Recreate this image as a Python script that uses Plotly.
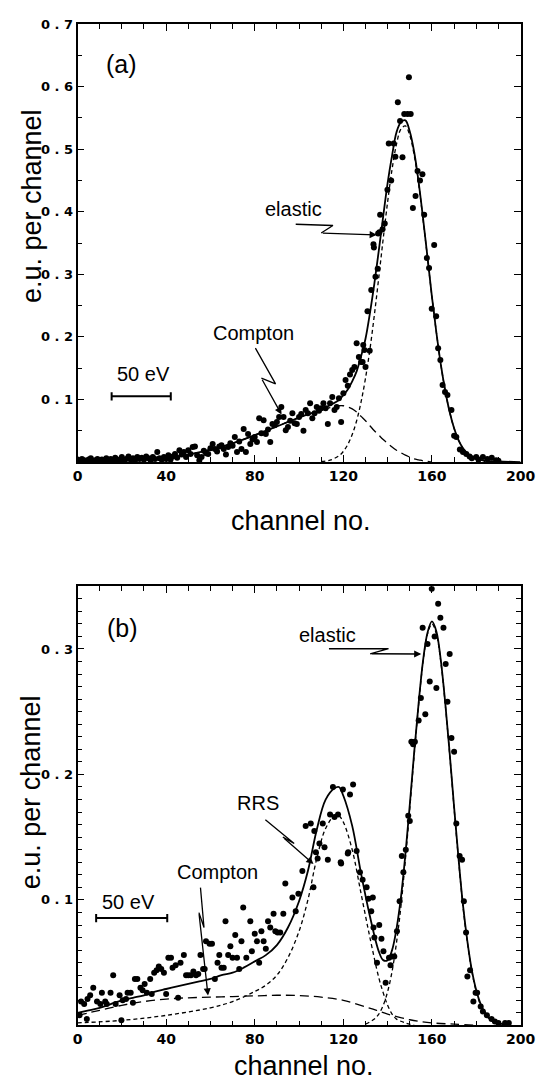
import plotly.graph_objects as go

# ---------------- panel (a) data ----------------
a_ch = [0, 1, 2, 3, 4, 5, 6, 7, 8, 9, 10, 11, 12, 13, 14, 15, 16, 17, 18, 19,
        20, 21, 22, 23, 24, 25, 26, 27, 28, 29, 30, 31, 32, 33, 34, 35, 36, 37, 38, 39,
        40, 41, 42, 43, 44, 45, 46, 47, 48, 49, 50, 51, 52, 53, 54, 55, 56, 57, 58, 59,
        60, 61, 62, 63, 64, 65, 66, 67, 68, 69, 70, 71, 72, 73, 74, 75, 76, 77, 78, 79,
        80, 81, 82, 83, 84, 85, 86, 87, 88, 89, 90, 91, 92, 93, 94, 95, 96, 97, 98, 99,
        100, 101, 102, 103, 104, 105, 106, 107, 108, 109, 110, 111, 112, 113, 114, 115, 116, 117, 118, 119,
        120, 121, 122, 123, 124, 125, 126, 127, 128, 128.7, 129, 129.5, 130, 130.9, 131.9, 132.6,
        133.6, 133.8, 134.5, 135.5, 135.7, 136.3, 136.6, 137.7, 138.7, 139.9, 140.5, 141.6, 142.7,
        143.5, 144.6, 145.6, 146.7, 147.5, 149, 149.6, 150.4, 151.4, 152.6, 153.5, 154.6, 155.7,
        156.5, 157.7, 158.7, 159.9, 161, 161.9, 162.8, 163.8, 164.8, 165.9, 167, 168.8, 170, 171,
        172.6, 174, 175.5, 177, 178, 180, 181, 183, 185, 187, 189, 190]
a_val = [0.004, 0.002, 0.005, 0.003, 0.001, 0.004, 0.006, 0.002, 0.003, 0.005,
         0.001, 0.004, 0.002, 0.006, 0.003, 0.005, 0.002, 0.007, 0.004, 0.003,
         0.008, 0.002, 0.005, 0.009, 0.004, 0.006, 0.003, 0.008, 0.005, 0.007,
         0.004, 0.009, 0.006, 0.003, 0.008, 0.005, 0.016, 0.006, 0.004, 0.008,
         0.005, 0.011, 0.004, 0.009, 0.013, 0.007, 0.019, 0.012, 0.016, 0.008,
         0.019, 0.013, 0.024, 0.025, 0.011, 0.003, 0.008, 0.018, 0.014, 0.013,
         0.022, 0.029, 0.021, 0.017, 0.025, 0.027, 0.021, 0.012, 0.024, 0.030,
         0.026, 0.040, 0.016, 0.033, 0.021, 0.053, 0.016, 0.045, 0.029, 0.036,
         0.040, 0.032, 0.070, 0.046, 0.067, 0.045, 0.052, 0.032, 0.061, 0.059,
         0.064, 0.072, 0.088, 0.072, 0.051, 0.056, 0.066, 0.078, 0.062, 0.061,
         0.072, 0.077, 0.050, 0.083, 0.078, 0.094, 0.070, 0.078, 0.088, 0.082,
         0.086, 0.094, 0.086, 0.061, 0.094, 0.104, 0.083, 0.088, 0.102, 0.064,
         0.110, 0.131, 0.122, 0.140, 0.147, 0.152, 0.190, 0.168, 0.160, 0.160, 0.187, 0.179,
         0.152, 0.241, 0.178, 0.275, 0.348, 0.343, 0.296, 0.309, 0.365, 0.367, 0.395, 0.372,
         0.381, 0.435, 0.509, 0.450, 0.509, 0.488, 0.575, 0.545, 0.487, 0.556, 0.556, 0.615,
         0.556, 0.406, 0.425, 0.465, 0.450, 0.460, 0.395, 0.326, 0.310, 0.245, 0.347, 0.233,
         0.182, 0.163, 0.123, 0.112, 0.107, 0.083, 0.042, 0.040, 0.020, 0.016, 0.013, 0.009,
         0.006, 0.008, 0.004, 0.008, 0.005, 0.007, 0.003, 0.002]

a_fit_ch = [0, 10, 20, 30, 40, 50, 60, 70, 80, 90, 100, 110, 114, 118, 120, 122, 124, 126, 128,
            130, 132, 134, 136, 138, 140, 142, 144, 146, 148, 150, 152, 154, 156, 158, 160, 162,
            164, 166, 168, 170, 172, 174, 176, 178, 180, 184, 190, 200]
a_fit = [0.001, 0.002, 0.003, 0.004, 0.006, 0.012, 0.020, 0.030, 0.043, 0.057, 0.071, 0.084,
         0.091, 0.099, 0.107, 0.116, 0.129, 0.145, 0.169, 0.197, 0.238, 0.285, 0.338, 0.393,
         0.446, 0.490, 0.527, 0.543, 0.546, 0.528, 0.495, 0.447, 0.389, 0.327, 0.264, 0.207,
         0.156, 0.114, 0.080, 0.054, 0.035, 0.022, 0.014, 0.008, 0.005, 0.002, 0.001, 0.0]

a_el_ch = [110, 114, 118, 120, 122, 124, 126, 128, 130, 132, 134, 136, 138, 140, 142, 144, 146,
           148, 150, 152, 154, 156, 158, 160, 162, 164, 166, 168, 170, 172, 174, 176, 178, 180, 184]
a_el = [0.001, 0.003, 0.010, 0.017, 0.028, 0.044, 0.066, 0.096, 0.134, 0.180, 0.235, 0.295,
        0.357, 0.416, 0.468, 0.508, 0.532, 0.537, 0.522, 0.490, 0.444, 0.387, 0.326, 0.264,
        0.207, 0.156, 0.114, 0.080, 0.054, 0.035, 0.022, 0.014, 0.008, 0.0045, 0.001]

a_co_ch = [0, 10, 20, 30, 40, 50, 60, 70, 80, 90, 100, 110, 114, 118, 120, 122, 124, 126, 128,
           130, 132, 134, 136, 138, 140, 142, 144, 146, 148, 150, 152, 154, 156, 158, 160]
a_co = [0.001, 0.002, 0.003, 0.004, 0.006, 0.012, 0.020, 0.030, 0.043, 0.057, 0.071, 0.083,
        0.087, 0.090, 0.090, 0.088, 0.085, 0.080, 0.073, 0.066, 0.058, 0.050, 0.043, 0.036,
        0.030, 0.024, 0.019, 0.015, 0.011, 0.008, 0.005, 0.0035, 0.002, 0.001, 0.0]

# ---------------- panel (b) data ----------------
b_ch = [0.9, 1.6, 3, 4.2, 4.5, 5.7, 7.1, 8.8, 10.3, 11, 12.5, 13.2, 14.9, 16.1, 17.2, 19, 19.8,
        20.4, 21.9, 22.6, 24, 25, 25.9, 27, 28.4, 29.4, 30.3, 31.3, 32.8, 33.5, 34.6, 35.7, 36.7,
        37.8, 39, 40, 41, 42.2, 42.9, 44.3, 45.4, 46.5, 48, 49, 50, 51.2, 52.3, 53.5, 54.5, 55.5,
        56.7, 57.4, 58, 59.6, 60.7, 62, 63.2, 64, 65, 66, 66.8, 68, 69, 70, 71.2, 72, 73, 74, 74.8,
        76.2, 78, 78.7, 80, 81, 82, 83, 84, 85, 86, 87, 88.5, 89.3, 90.3, 91.5, 92.9, 93.8, 97,
        98.5, 99.7, 101.5, 103, 105.3, 106.5, 106.9, 107.6, 108.4, 109.2, 110.7, 111.5, 113, 114,
        115.3, 116, 117.6, 118.8, 119, 119.8, 122, 122.2, 123, 124.4, 126, 127.5, 128.7, 130.5,
        131.3, 132.6, 133.3, 133.6, 134, 135.2, 136.2, 137.2, 138.1, 139.1, 140.6, 141.3, 142, 143,
        144.2, 145.4, 146.4, 147.1, 148.2, 149.3, 150, 150.7, 151.5, 152.3, 154, 155, 155.8, 157,
        158, 159, 159.9, 161.2, 162, 162.8, 163.8, 165.2, 166.2, 167, 168, 168.8, 170, 171, 172.5,
        173.6, 174.4, 175.4, 176, 177.2, 178.7, 179.7, 180.4, 182, 183, 184.8, 186.9, 188.4, 190,
        193, 194.7]
b_val = [0.008, 0.019, 0.017, 0.005, 0.021, 0.024, 0.030, 0.019, 0.017, 0.026, 0.019, 0.017,
         0.026, 0.040, 0.017, 0.024, 0.004, 0.020, 0.021, 0.026, 0.026, 0.018, 0.037, 0.037,
         0.030, 0.028, 0.033, 0.026, 0.037, 0.025, 0.042, 0.044, 0.047, 0.045, 0.042, 0.025,
         0.054, 0.054, 0.046, 0.048, 0.022, 0.050, 0.056, 0.040, 0.040, 0.040, 0.043, 0.040,
         0.041, 0.056, 0.045, 0.045, 0.067, 0.065, 0.065, 0.037, 0.050, 0.056, 0.046, 0.046,
         0.083, 0.056, 0.063, 0.054, 0.072, 0.054, 0.045, 0.067, 0.094, 0.054, 0.083, 0.059,
         0.073, 0.067, 0.050, 0.075, 0.067, 0.061, 0.083, 0.078, 0.089, 0.075, 0.074, 0.074,
         0.089, 0.113, 0.102, 0.091, 0.105, 0.123, 0.159, 0.161, 0.110, 0.155, 0.138, 0.133,
         0.145, 0.161, 0.142, 0.132, 0.168, 0.190, 0.166, 0.168, 0.130, 0.129, 0.188, 0.137,
         0.138, 0.184, 0.192, 0.139, 0.122, 0.116, 0.110, 0.101, 0.091, 0.102, 0.078, 0.070,
         0.050, 0.080, 0.069, 0.059, 0.034, 0.054, 0.048, 0.055, 0.055, 0.075, 0.099, 0.135,
         0.122, 0.140, 0.167, 0.163, 0.226, 0.224, 0.226, 0.243, 0.261, 0.317, 0.248, 0.304,
         0.274, 0.348, 0.310, 0.269, 0.336, 0.325, 0.317, 0.288, 0.258, 0.296, 0.229, 0.218,
         0.161, 0.135, 0.132, 0.099, 0.074, 0.039, 0.044, 0.019, 0.026, 0.026, 0.015, 0.011,
         0.008, 0.005, 0.003, 0.002, 0.002, 0.002]

b_fit_ch = [0, 5, 10, 15, 20, 25, 30, 35, 40, 45, 50, 55, 60, 65, 70, 75, 80, 85, 90, 95, 100,
            104, 108, 112, 116, 118, 120, 124, 128, 132, 136, 138, 140, 142, 144, 146, 148, 150,
            152, 154, 156, 158, 160, 162, 164, 166, 168, 170, 172, 174, 176, 178, 180, 182, 184,
            186, 190, 195]
b_fit = [0.010, 0.012, 0.014, 0.017, 0.020, 0.022, 0.024, 0.027, 0.029, 0.031, 0.033, 0.035,
         0.037, 0.040, 0.042, 0.046, 0.051, 0.056, 0.064, 0.078, 0.099, 0.123, 0.156, 0.180,
         0.189, 0.190, 0.183, 0.159, 0.121, 0.087, 0.059, 0.052, 0.052, 0.060, 0.077, 0.102,
         0.136, 0.176, 0.218, 0.257, 0.291, 0.313, 0.322, 0.314, 0.291, 0.257, 0.217, 0.174,
         0.133, 0.096, 0.067, 0.044, 0.028, 0.017, 0.010, 0.006, 0.002, 0.000]

b_rrs_ch = [0, 20, 40, 60, 70, 80, 85, 90, 95, 100, 104, 108, 112, 116, 118, 120, 124, 128, 132,
            136, 138, 140, 142, 144, 148, 152]
b_rrs = [0.002, 0.004, 0.008, 0.014, 0.019, 0.027, 0.032, 0.040, 0.054, 0.075, 0.100, 0.133,
         0.157, 0.167, 0.167, 0.162, 0.140, 0.105, 0.070, 0.038, 0.026, 0.016, 0.009, 0.005,
         0.002, 0.0]

b_co_ch = [0, 10, 20, 30, 40, 50, 60, 70, 80, 90, 100, 110, 120, 130, 135, 140, 150, 160, 170, 180]
b_co = [0.008, 0.012, 0.016, 0.019, 0.021, 0.022, 0.0225, 0.023, 0.0235, 0.024, 0.0238, 0.0225,
        0.020, 0.0148, 0.012, 0.009, 0.0045, 0.002, 0.001, 0.0]

b_el_ch = [130, 134, 136, 138, 140, 142, 144, 146, 148, 150, 152, 154, 156, 158, 160, 162, 164,
           166, 168, 170, 172, 174, 176, 178, 180, 182, 184, 186, 190]
b_el = [0.001, 0.005, 0.009, 0.016, 0.027, 0.043, 0.066, 0.095, 0.132, 0.173, 0.216, 0.256,
        0.290, 0.312, 0.320, 0.312, 0.290, 0.256, 0.216, 0.173, 0.132, 0.095, 0.066, 0.043,
        0.027, 0.016, 0.009, 0.005, 0.001]

# ---------------- ticks ----------------
x_tickvals = [0, 40, 80, 120, 160, 200]
x_ticktext = ["0", "40", "80", "120", "160", "200"]
x_minor = [10, 20, 30, 50, 60, 70, 90, 100, 110, 130, 140, 150, 170, 180, 190]
ya_tickvals = [0.1, 0.2, 0.3, 0.4, 0.5, 0.6, 0.7]
ya_ticktext = ["0 . 1", "0 . 2", "0 . 3", "0 . 4", "0 . 5", "0 . 6", "0 . 7"]
ya_minor = [0.05, 0.15, 0.25, 0.35, 0.45, 0.55, 0.65]
yb_tickvals = [0.1, 0.2, 0.3]
yb_ticktext = ["0 . 1", "0 . 2", "0 . 3"]
yb_minor = [0.01, 0.02, 0.03, 0.04, 0.05, 0.06, 0.07, 0.08, 0.09,
            0.11, 0.12, 0.13, 0.14, 0.15, 0.16, 0.17, 0.18, 0.19,
            0.21, 0.22, 0.23, 0.24, 0.25, 0.26, 0.27, 0.28, 0.29,
            0.31, 0.32, 0.33, 0.34]

# ---------------- geometry (screen pixels) ----------------
W, H, OFF = 542, 1076, 8
def fx(X):
    return (X - OFF) / W
def fy(Y):
    return 1 - (Y - OFF) / H

FONT = "Liberation Sans"
TICKFONT = "DejaVu Sans"
BLACK = "black"

fig = go.Figure()

def add_panel(xa, ya, pts_x, pts_y, fit_x, fit_y, comps):
    for cx, cy, dash in comps:
        fig.add_trace(go.Scatter(x=cx, y=cy, mode="lines", xaxis=xa, yaxis=ya,
                                 line=dict(color=BLACK, width=1.3, dash=dash, shape="spline"),
                                 showlegend=False, hoverinfo="skip"))
    fig.add_trace(go.Scatter(x=fit_x, y=fit_y, mode="lines", xaxis=xa, yaxis=ya,
                             line=dict(color=BLACK, width=1.8, shape="spline"),
                             showlegend=False))
    fig.add_trace(go.Scatter(x=pts_x, y=pts_y, mode="markers", xaxis=xa, yaxis=ya,
                             marker=dict(color=BLACK, size=6), showlegend=False))

SHORT = "4px,3px"
LONG = "9px,5px"
add_panel("x", "y", a_ch, a_val, a_fit_ch, a_fit,
          [(a_el_ch, a_el, SHORT), (a_co_ch, a_co, LONG)])
add_panel("x2", "y2", b_ch, b_val, b_fit_ch, b_fit,
          [(b_rrs_ch, b_rrs, SHORT), (b_el_ch, b_el, SHORT), (b_co_ch, b_co, LONG)])

def xaxis_cfg(anchor):
    return dict(domain=[fx(75), fx(535)], anchor=anchor, range=[0, 200],
                tickmode="array", tickvals=x_tickvals, ticktext=x_ticktext,
                ticks="inside", ticklen=7, tickwidth=1.4, tickcolor=BLACK,
                minor=dict(ticks="inside", tickvals=x_minor, ticklen=5, tickwidth=1.2, tickcolor=BLACK),
                showline=True, linewidth=1.6, linecolor=BLACK, mirror="ticks",
                showgrid=False, zeroline=False, ticklabeloverflow="allow",
                tickfont=dict(family=TICKFONT, size=14, color=BLACK, weight="bold"))

def yaxis_cfg(anchor, top, bottom, rng, tv, tt, mv):
    return dict(domain=[fy(bottom), fy(top)], anchor=anchor, range=rng,
                tickmode="array", tickvals=tv, ticktext=tt,
                ticks="inside", ticklen=7, tickwidth=1.4, tickcolor=BLACK,
                minor=dict(ticks="inside", tickvals=mv, ticklen=5, tickwidth=1.2, tickcolor=BLACK),
                showline=True, linewidth=1.6, linecolor=BLACK, mirror="ticks",
                showgrid=False, zeroline=False, ticklabeloverflow="allow",
                tickfont=dict(family=TICKFONT, size=13, color=BLACK, weight="bold"))

fig.update_layout(
    width=W, height=H, margin=dict(l=0, r=0, t=0, b=0),
    paper_bgcolor="white", plot_bgcolor="white",
    xaxis=xaxis_cfg("y"),
    yaxis=yaxis_cfg("x", 17, 458, [0, 0.7], ya_tickvals, ya_ticktext, ya_minor),
    xaxis2=xaxis_cfg("y2"),
    yaxis2=yaxis_cfg("x2", 583, 1025, [0, 0.35], yb_tickvals, yb_ticktext, yb_minor),
)

ann = []
def text(x, y, s, size, xref="x", yref="y", angle=0):
    ann.append(dict(x=x, y=y, xref=xref, yref=yref, text=s, showarrow=False,
                    textangle=angle, font=dict(family=FONT, size=size, color=BLACK),
                    xanchor="center", yanchor="middle"))

# axis titles
text(fx(307), fy(517), "channel no.", 27, "paper", "paper")
text(fx(310), fy(1066), "channel no.", 27, "paper", "paper")
text(fx(27), fy(200), "e.u. per channel", 27, "paper", "paper", -90)
text(fx(27), fy(790), "e.u. per channel", 27, "paper", "paper", -90)

# panel labels
text(fx(121), fy(57), "(a)", 25, "paper", "paper")
text(fx(122), fy(625), "(b)", 25, "paper", "paper")

# panel (a) labels
text(97.4, 0.405, "elastic", 20)
text(79.5, 0.206, "Compton", 20)
text(29.6, 0.141, "50 eV", 20)
# panel (b) labels
text(113, 0.311, "elastic", 20, "x2", "y2")
text(81.3, 0.177, "RRS", 20, "x2", "y2")
text(63.1, 0.122, "Compton", 20, "x2", "y2")
text(23.2, 0.0987, "50 eV", 20, "x2", "y2")

def zigzag(xref, yref, pts):
    xs = [p[0] for p in pts]
    ys = [p[1] for p in pts]
    fig.add_trace(go.Scatter(x=xs[:-1], y=ys[:-1], mode="lines", xaxis=xref, yaxis=yref,
                             line=dict(color=BLACK, width=1.3), showlegend=False, hoverinfo="skip"))
    ann.append(dict(x=xs[-1], y=ys[-1], ax=xs[-2], ay=ys[-2], xref=xref, yref=yref,
                    axref=xref, ayref=yref, text="", showarrow=True, arrowhead=2,
                    arrowsize=1.1, arrowwidth=1.3, arrowcolor=BLACK, standoff=0))

zigzag("x", "y", [(98.5, 0.380), (115.3, 0.378), (110.0, 0.366), (135.1, 0.363)])
zigzag("x", "y", [(80.3, 0.182), (89.4, 0.125), (83.0, 0.134), (92.1, 0.076)])
zigzag("x2", "y2", [(113.5, 0.3002), (140.4, 0.3002), (132.1, 0.2962), (155.2, 0.296)])
zigzag("x2", "y2", [(84.8, 0.1638), (97.8, 0.145), (92.7, 0.150), (106.5, 0.1287)])
zigzag("x2", "y2", [(55.5, 0.1098), (57.1, 0.078), (54.8, 0.0899), (58.9, 0.0238)])

shapes = []
def bar(xref, yref, x0, x1, y, cap):
    ln = dict(color=BLACK, width=2)
    shapes.append(dict(type="line", xref=xref, yref=yref, x0=x0, x1=x1, y0=y, y1=y, line=ln))
    shapes.append(dict(type="line", xref=xref, yref=yref, x0=x0, x1=x0, y0=y - cap, y1=y + cap, line=ln))
    shapes.append(dict(type="line", xref=xref, yref=yref, x0=x1, x1=x1, y0=y - cap, y1=y + cap, line=ln))

bar("x", "y", 15.4, 42.1, 0.105, 0.0065)
bar("x2", "y2", 8.4, 40.5, 0.0855, 0.0032)

fig.update_layout(annotations=ann, shapes=shapes)
fig.write_html("out.html")
